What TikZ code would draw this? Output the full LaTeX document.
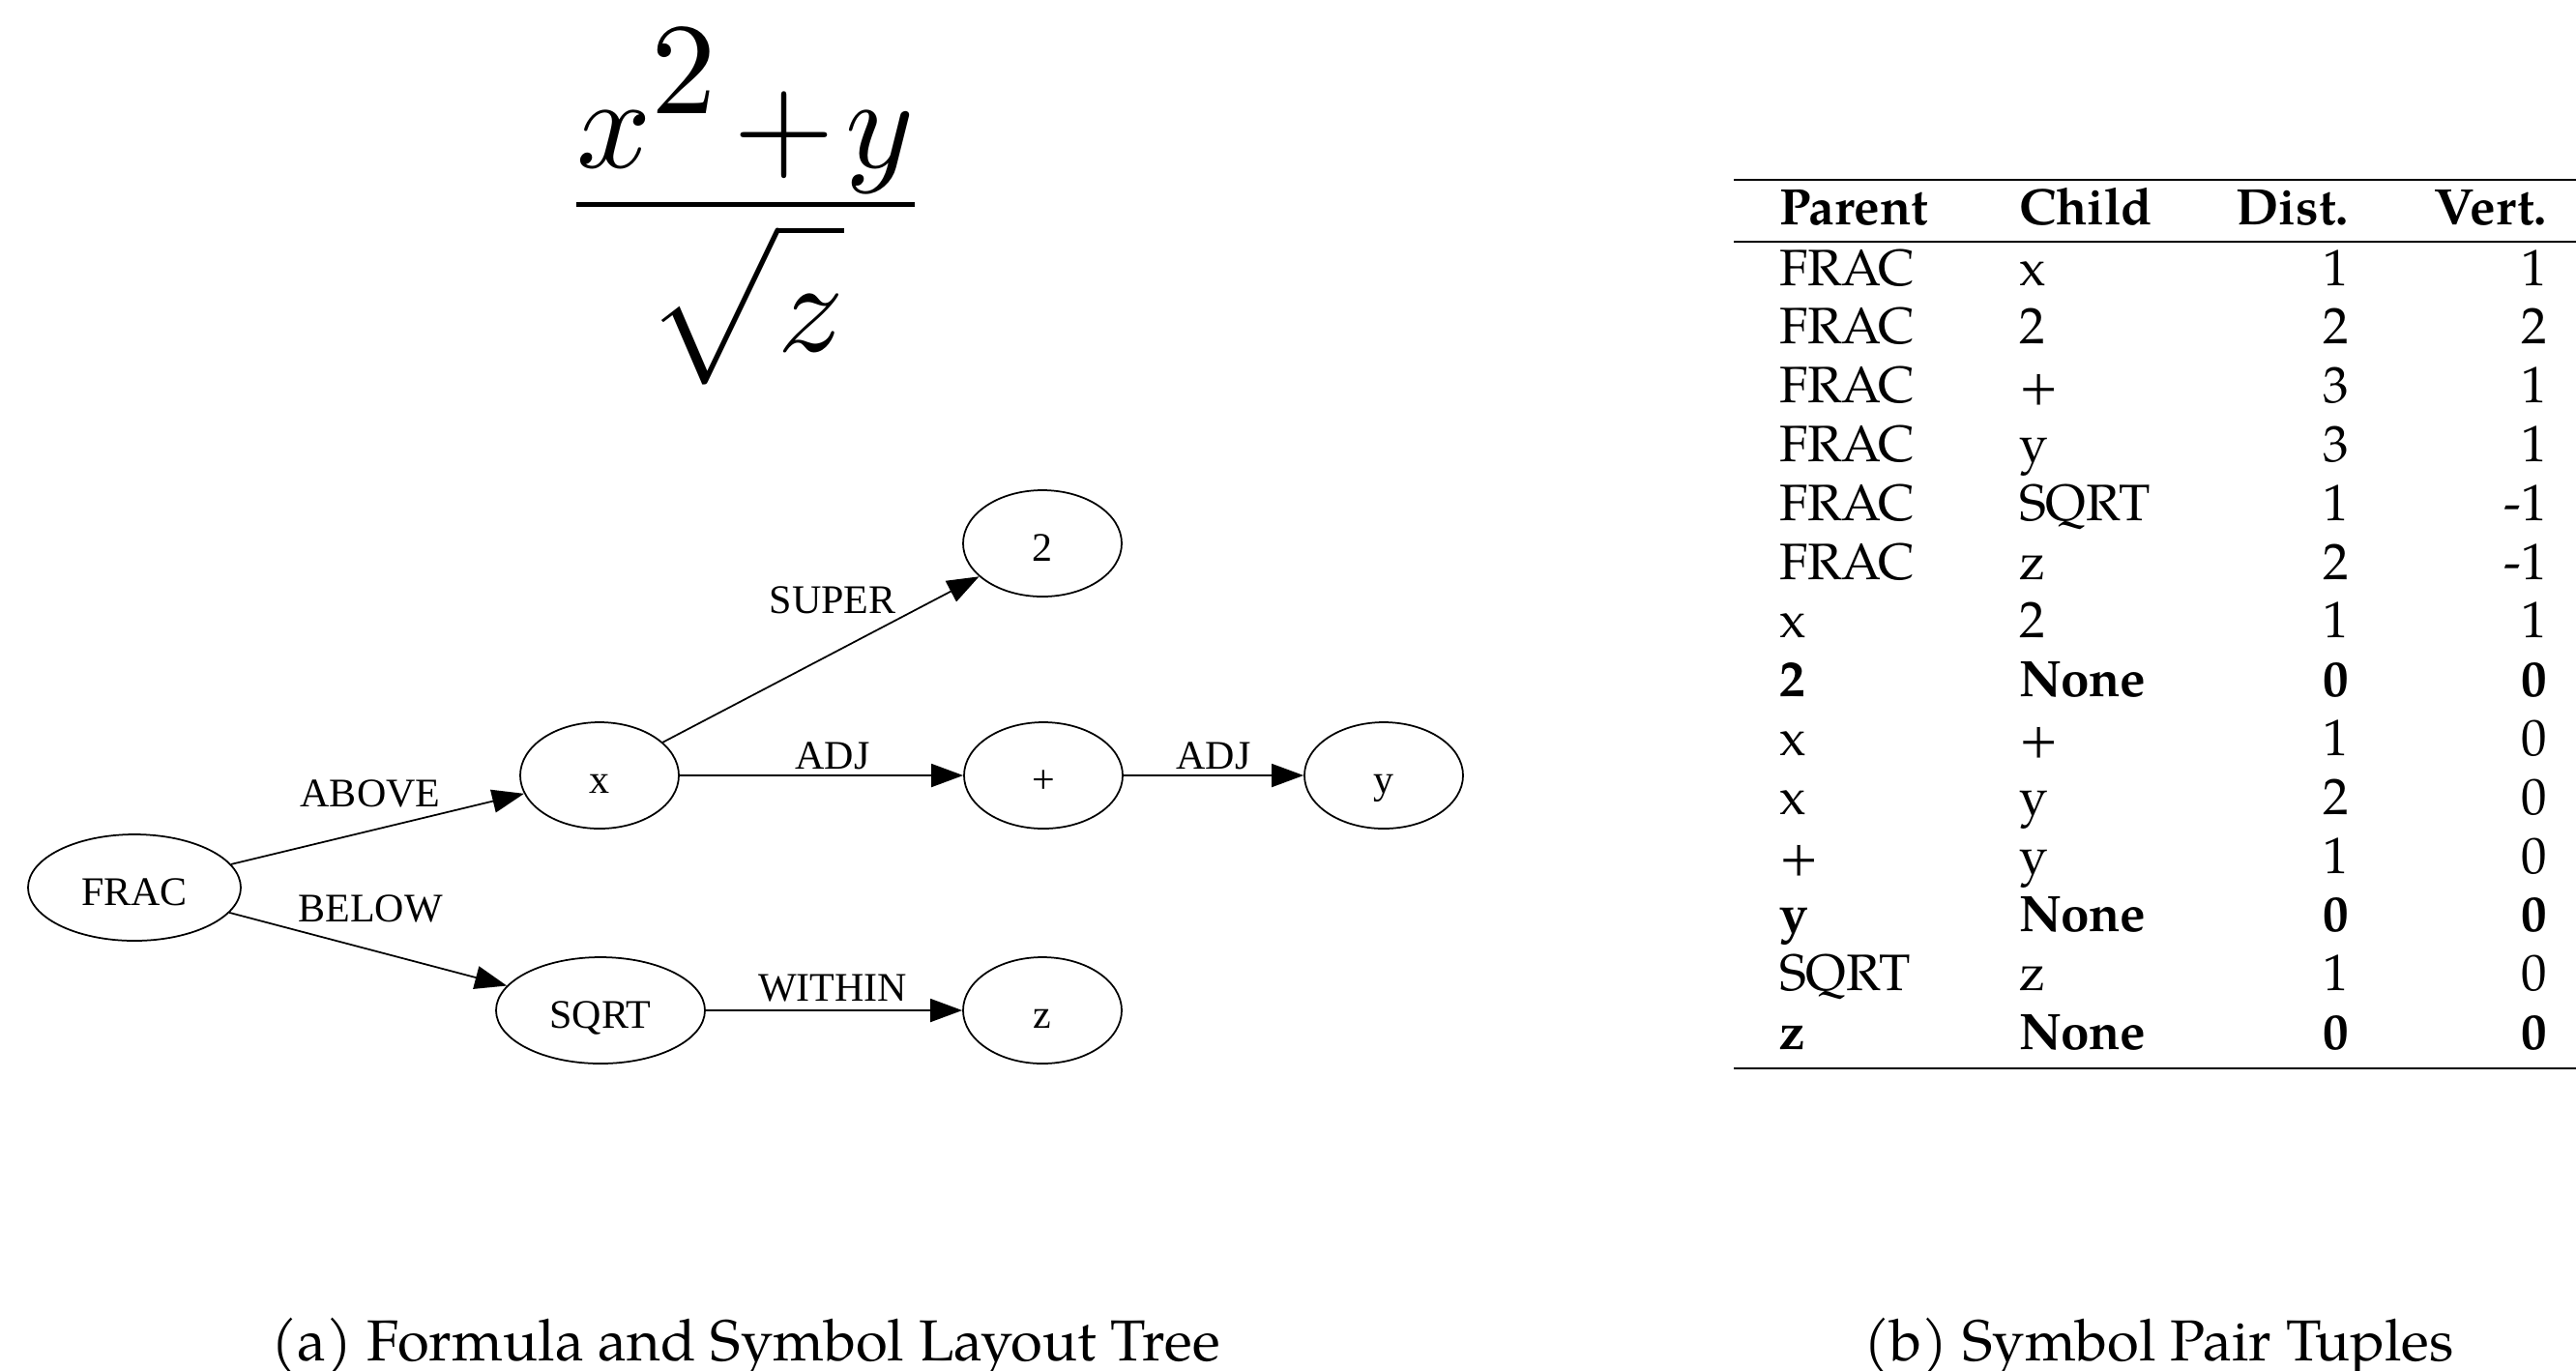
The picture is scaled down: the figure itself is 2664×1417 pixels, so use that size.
\documentclass[tikz,border=0pt]{standalone}
\usepackage{fontspec}
\usetikzlibrary{shapes.geometric,arrows.meta}
\IfFontExistsTF{TeX Gyre Pagella}{\newfontfamily\palfont{TeX Gyre Pagella}}{\newfontfamily\palfont{Liberation Serif}}
\newfontfamily\tmsfont{Liberation Serif}
\begin{document}
\begin{tikzpicture}[x=0.2pt,y=-0.2pt,
  gnode/.style={ellipse,draw,line width=0.35pt,minimum width=32.8pt,minimum height=22pt,inner sep=0pt,
    font=\tmsfont\fontsize{8.4}{10}\selectfont,text height=7.2pt,text depth=0pt},
  gedge/.style={line width=0.35pt,-{Triangle[length=6.6pt,width=4.8pt]}},
  glabel/.style={anchor=base,inner sep=0pt,font=\tmsfont\fontsize{8.4}{10}\selectfont},
  tcellL/.style={anchor=base west,inner sep=0pt,font=\palfont\fontsize{10.6}{12}\selectfont},
  tcellR/.style={anchor=base east,inner sep=0pt,font=\palfont\fontsize{10.6}{12}\selectfont},
  caption/.style={anchor=base west,inner sep=0pt,font=\palfont\fontsize{11.95}{14}\selectfont}]
\useasboundingbox (0,0) rectangle (2664,1417);
% formula
\node[anchor=base,inner sep=0pt] (formula) at (771,245.5) {\scalebox{2.7}{$\displaystyle\frac{\raisebox{-1.4pt}[0pt][0pt]{$\displaystyle x^{\textstyle 2}\mkern1.5mu{+}\mkern1.5mu y$}}{\raisebox{0.5pt}[\height][\depth]{$\displaystyle\sqrt{\mathstrut z}$}}$}};
% graph nodes
\node[gnode,minimum width=44pt] (frac) at (139,918) {FRAC};
\node[gnode] (x) at (620,802) {x};
\node[gnode] (two) at (1078,562) {2};
\node[gnode] (plus) at (1079,802) {+};
\node[gnode] (y) at (1431,802) {y};
\node[gnode,minimum width=43.2pt] (sqrt) at (621,1045) {SQRT};
\node[gnode] (z) at (1078,1045) {z};
% edges
\draw[gedge] (frac) -- (x);
\draw[gedge] (frac) -- (sqrt);
\draw[gedge] (x) -- (two);
\draw[gedge] (x) -- (plus);
\draw[gedge] (plus) -- (y);
\draw[gedge] (sqrt) -- (z);
% edge labels
\node[glabel] (lab-above) at (383,834) {ABOVE};
\node[glabel] (lab-below) at (383,953) {BELOW};
\node[glabel] (lab-super) at (861,634) {SUPER};
\node[glabel] (lab-adj1) at (861,795) {ADJ};
\node[glabel] (lab-adj2) at (1255,795) {ADJ};
\node[glabel] (lab-within) at (861,1035) {WITHIN};
% table rules
\draw[line width=0.5pt] (1793,186) -- (2664,186);
\draw[line width=0.3pt] (1793,250) -- (2664,250);
\draw[line width=0.5pt] (1793,1105) -- (2664,1105);
% header
\node[tcellL] (hp) at (1839,232) {\bfseries Parent};
\node[tcellL] (hc) at (2087,232) {\bfseries Child};
\node[tcellR] (hd) at (2430,232) {\bfseries Dist.};
\node[tcellR] (hv) at (2635,232) {\bfseries Vert.};
% rows
\foreach \p/\c/\d/\v/\f [count=\i] in {
  FRAC/x/1/1/\mdseries,
  FRAC/2/2/2/\mdseries,
  FRAC/+/3/1/\mdseries,
  FRAC/y/3/1/\mdseries,
  FRAC/SQRT/1/-1/\mdseries,
  FRAC/z/2/-1/\mdseries,
  x/2/1/1/\mdseries,
  2/None/0/0/\bfseries,
  x/+/1/0/\mdseries,
  x/y/2/0/\mdseries,
  +/y/1/0/\mdseries,
  y/None/0/0/\bfseries,
  SQRT/z/1/0/\mdseries,
  z/None/0/0/\bfseries}{
  \pgfmathsetmacro\yy{295+60.8*(\i-1)}
  \node[tcellL] (p\i) at (1839,\yy) {\f \p};
  \node[tcellL] (c\i) at (2087,\yy) {\f \c};
  \node[tcellR] (d\i) at (2430,\yy) {\f \d};
  \node[tcellR] (v\i) at (2635,\yy) {\f \v};
}
% captions
\node[caption] (capa) at (279,1407) {(a) Formula and Symbol Layout Tree};
\node[caption] (capb) at (1926,1407) {(b) Symbol Pair Tuples};
\end{tikzpicture}
\end{document}
